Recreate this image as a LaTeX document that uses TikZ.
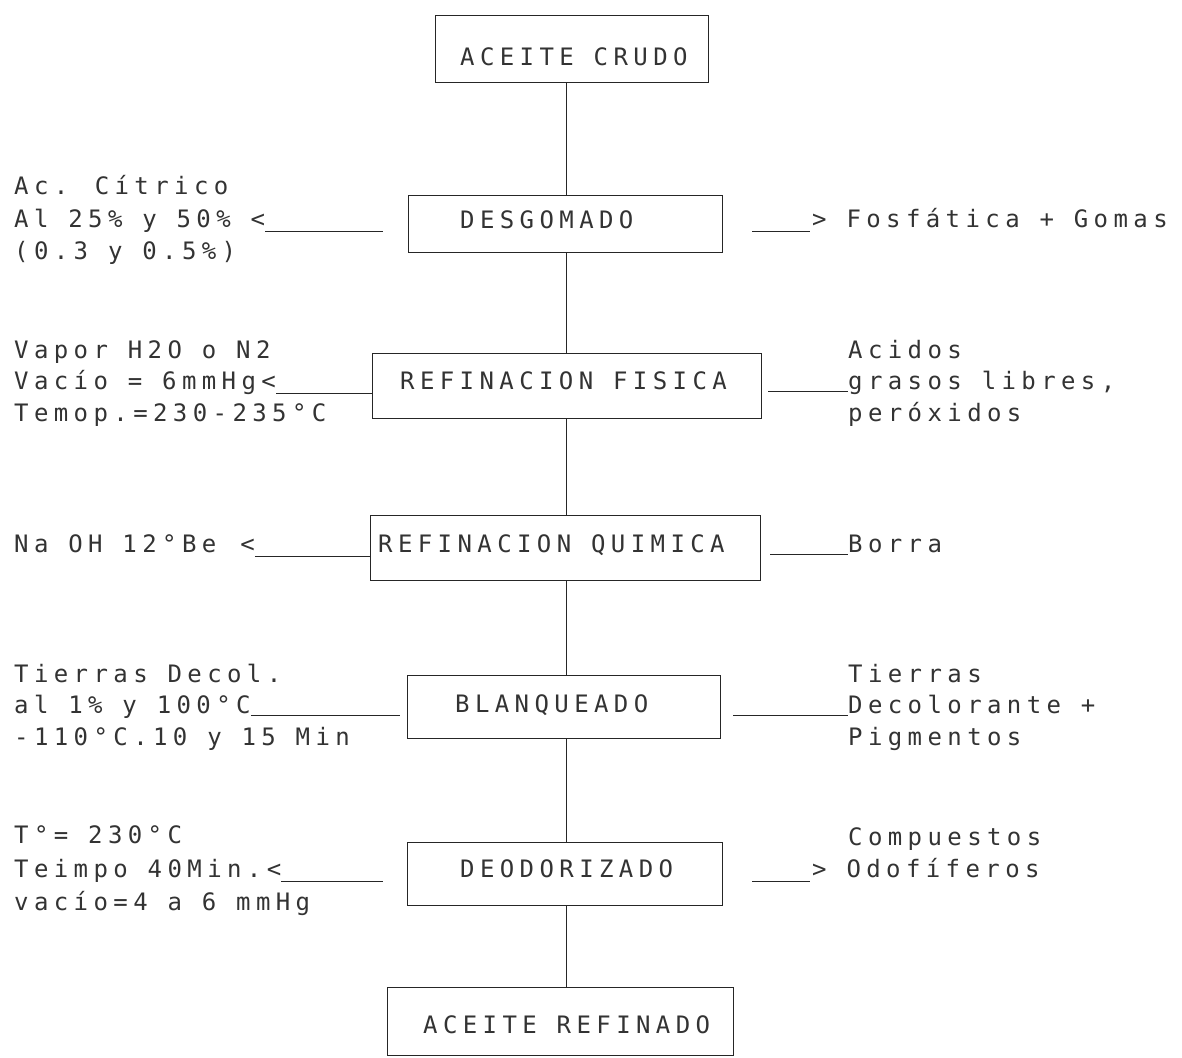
\documentclass[tikz,border=0pt]{standalone}
\usepackage{fontspec}
\usetikzlibrary{fit}
\newfontfamily\dmfont[LetterSpace=22.5]{DejaVu Sans Mono}
\begin{document}
\begin{tikzpicture}[x=1pt,y=-1pt,
  box/.style={draw=black!85, line width=0.9pt, inner sep=0pt},
  lbl/.style={font=\dmfont\fontsize{24}{28}\selectfont, text=black!80, inner sep=0pt, anchor=base west},
  conn/.style={draw=black!85, line width=0.9pt}]
\useasboundingbox[fill=white] (0,0) rectangle (1182,1057);
\coordinate (spine) at (566,0);

% process boxes
\node[box, fit={(435,15) (708,82)}] (b1) {};
\node[box, fit={(408,195) (722,252)}] (b2) {};
\node[box, fit={(372,353) (761,418)}] (b3) {};
\node[box, fit={(370,515) (760,580)}] (b4) {};
\node[box, fit={(407,675) (720,738)}] (b5) {};
\node[box, fit={(407,842) (722,905)}] (b6) {};
\node[box, fit={(387,987) (733,1055)}] (b7) {};

% box titles
\node[lbl] (t1) at (460,65) {ACEITE CRUDO};
\node[lbl] (t2) at (460,228) {DESGOMADO};
\node[lbl] (t3) at (400,389) {REFINACION FISICA};
\node[lbl] (t4) at (378,552) {REFINACION QUIMICA};
\node[lbl] (t5) at (455,712) {BLANQUEADO};
\node[lbl] (t6) at (460,877) {DEODORIZADO};
\node[lbl] (t7) at (423,1033) {ACEITE REFINADO};

% main flow
\draw[conn] (spine |- b1.south) -- (spine |- b2.north);
\draw[conn] (spine |- b2.south) -- (spine |- b3.north);
\draw[conn] (spine |- b3.south) -- (spine |- b4.north);
\draw[conn] (spine |- b4.south) -- (spine |- b5.north);
\draw[conn] (spine |- b5.south) -- (spine |- b6.north);
\draw[conn] (spine |- b6.south) -- (spine |- b7.north);

% desgomado
\node[lbl] (l2a) at (14,194) {Ac. Cítrico};
\node[lbl] (l2b) at (14,227) {Al 25\% y 50\% <};
\node[lbl] (l2c) at (14,259) {(0.3 y 0.5\%)};
\node[lbl] (r2) at (812,227) {> Fosfática + Gomas};
\draw[conn, shorten >=25pt] ([yshift=-4pt]l2b.base east) -- ([yshift=-4pt]l2b.base east -| b2.west);
\draw[conn, shorten <=30pt, shorten >=2pt] ([yshift=-4pt]r2.base west -| b2.east) -- ([yshift=-4pt]r2.base west);

% refinacion fisica
\node[lbl] (l3a) at (14,358) {Vapor H2O o N2};
\node[lbl] (l3b) at (14,389) {Vacío = 6mmHg<};
\node[lbl] (l3c) at (14,421) {Temop.=230-235°C};
\node[lbl] (r3a) at (848,358) {Acidos};
\node[lbl] (r3b) at (848,389) {grasos libres,};
\node[lbl] (r3c) at (848,421) {peróxidos};
\draw[conn] ([yshift=-4pt]l3b.base east) -- ([yshift=-4pt]l3b.base east -| b3.west);
\draw[conn, shorten <=7pt] ([yshift=-2pt]r3b.base west -| b3.east) -- ([yshift=-2pt]r3b.base west);

% refinacion quimica
\node[lbl] (l4) at (14,552) {Na OH 12°Be\hspace{24pt}<};
\node[lbl] (r4) at (848,552) {Borra};
\draw[conn] ([yshift=-4pt]l4.base east) -- ([yshift=-4pt]l4.base east -| b4.west);
\draw[conn, shorten <=10pt] ([yshift=-2pt]r4.base west -| b4.east) -- ([yshift=-2pt]r4.base west);

% blanqueado
\node[lbl] (l5a) at (14,682) {Tierras Decol.};
\node[lbl] (l5b) at (14,713) {al 1\% y 100°C};
\node[lbl] (l5c) at (14,745) {-110°C.10 y 15 Min};
\node[lbl] (r5a) at (848,682) {Tierras};
\node[lbl] (r5b) at (848,713) {Decolorante +};
\node[lbl] (r5c) at (848,745) {Pigmentos};
\draw[conn, shorten >=7pt] ([yshift=-2pt]l5b.base east) -- ([yshift=-2pt]l5b.base east -| b5.west);
\draw[conn, shorten <=13pt] ([yshift=-2pt]r5b.base west -| b5.east) -- ([yshift=-2pt]r5b.base west);

% deodorizado
\node[lbl] (l6a) at (14,843) {T°= 230°C};
\node[lbl] (l6b) at (14,877) {Teimpo 40Min.<};
\node[lbl] (l6c) at (14,910) {vacío=4 a 6 mmHg};
\node[lbl] (r6a) at (848,845) {Compuestos};
\node[lbl] (r6b) at (812,877) {> Odofíferos};
\draw[conn, shorten >=24pt] ([yshift=-4pt]l6b.base east) -- ([yshift=-4pt]l6b.base east -| b6.west);
\draw[conn, shorten <=30pt, shorten >=2pt] ([yshift=-4pt]r6b.base west -| b6.east) -- ([yshift=-4pt]r6b.base west);
\end{tikzpicture}
\end{document}
